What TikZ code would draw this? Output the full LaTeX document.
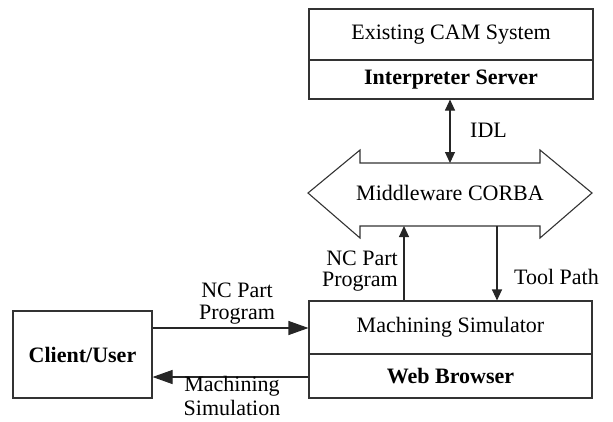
\documentclass[tikz,border=0pt]{standalone}
\usepackage{fontspec}
\setmainfont{Liberation Serif}
\usetikzlibrary{arrows.meta}
\begin{document}
\begin{tikzpicture}[x=1pt,y=-1pt,
  box/.style={draw=black!80,line width=1.1pt,inner sep=0pt,font=\fontsize{22}{24}\selectfont},
  bbox/.style={box,font=\fontsize{22}{24}\selectfont\bfseries},
  lbl/.style={font=\fontsize{22}{24}\selectfont,inner sep=0pt,align=center},
  conn/.style={draw=black!85,line width=1.1pt},
  tipS/.style={-{Triangle[length=11pt,width=10pt]}},
  tipL/.style={-{Triangle[length=20pt,width=14pt]}}]
\useasboundingbox (0,0) rectangle (613,421);

% CAM server stack
\node[box,minimum width=284,minimum height=51] (cam) at (451,34.5) {Existing CAM System};
\node[bbox,minimum width=284,minimum height=39] (interp) at (451,79.5) {Interpreter Server};

% middleware double arrow
\draw[draw=black!80,line width=1.1pt] (308,193) -- (360,150) -- (360,163) -- (540,163) -- (540,150)
  -- (592,193) -- (540,238) -- (540,226) -- (360,226) -- (360,238) -- cycle;
\node[lbl] (corba) at (450,193) {Middleware CORBA};
\coordinate (corbaTop) at (450,163);
\coordinate (corbaBotL) at (404,226);
\coordinate (corbaBotR) at (497,226);

% simulator stack
\node[box,minimum width=283,minimum height=53] (sim) at (450.5,327.5) {Machining Simulator};
\node[bbox,minimum width=283,minimum height=44] (web) at (450.5,376) {Web Browser};

% client
\node[bbox,minimum width=139,minimum height=87] (client) at (82.5,354.5) {Client/User};

% connectors
\draw[conn,{Triangle[length=11pt,width=10pt]}-{Triangle[length=11pt,width=10pt]}] (interp.south -| corbaTop) -- (corbaTop);
\node[lbl,anchor=west] (idl) at (470,130) {IDL};

\draw[conn,tipS] (sim.north -| corbaBotL) -- (corbaBotL);
\node[lbl,anchor=east] (ncup) at (398,258) {NC Part};
\node[lbl,anchor=east] (progup) at (398,282) {Program};

\draw[conn,tipS] (corbaBotR) -- (sim.north -| corbaBotR);
\node[lbl,anchor=west] (tool) at (514,277) {Tool Path};

\draw[conn,tipL] (client.east |- 0,328) -- (sim.west |- 0,328);
\node[lbl] (nc) at (237,290) {NC Part};
\node[lbl] (prog) at (237,315) {Program};

\draw[conn,tipL] (web.west |- 0,377) -- (client.east |- 0,377);
\node[lbl] (mach) at (232,386) {Machining};
\node[lbl] (simul) at (232,408) {Simulation};
\end{tikzpicture}
\end{document}
